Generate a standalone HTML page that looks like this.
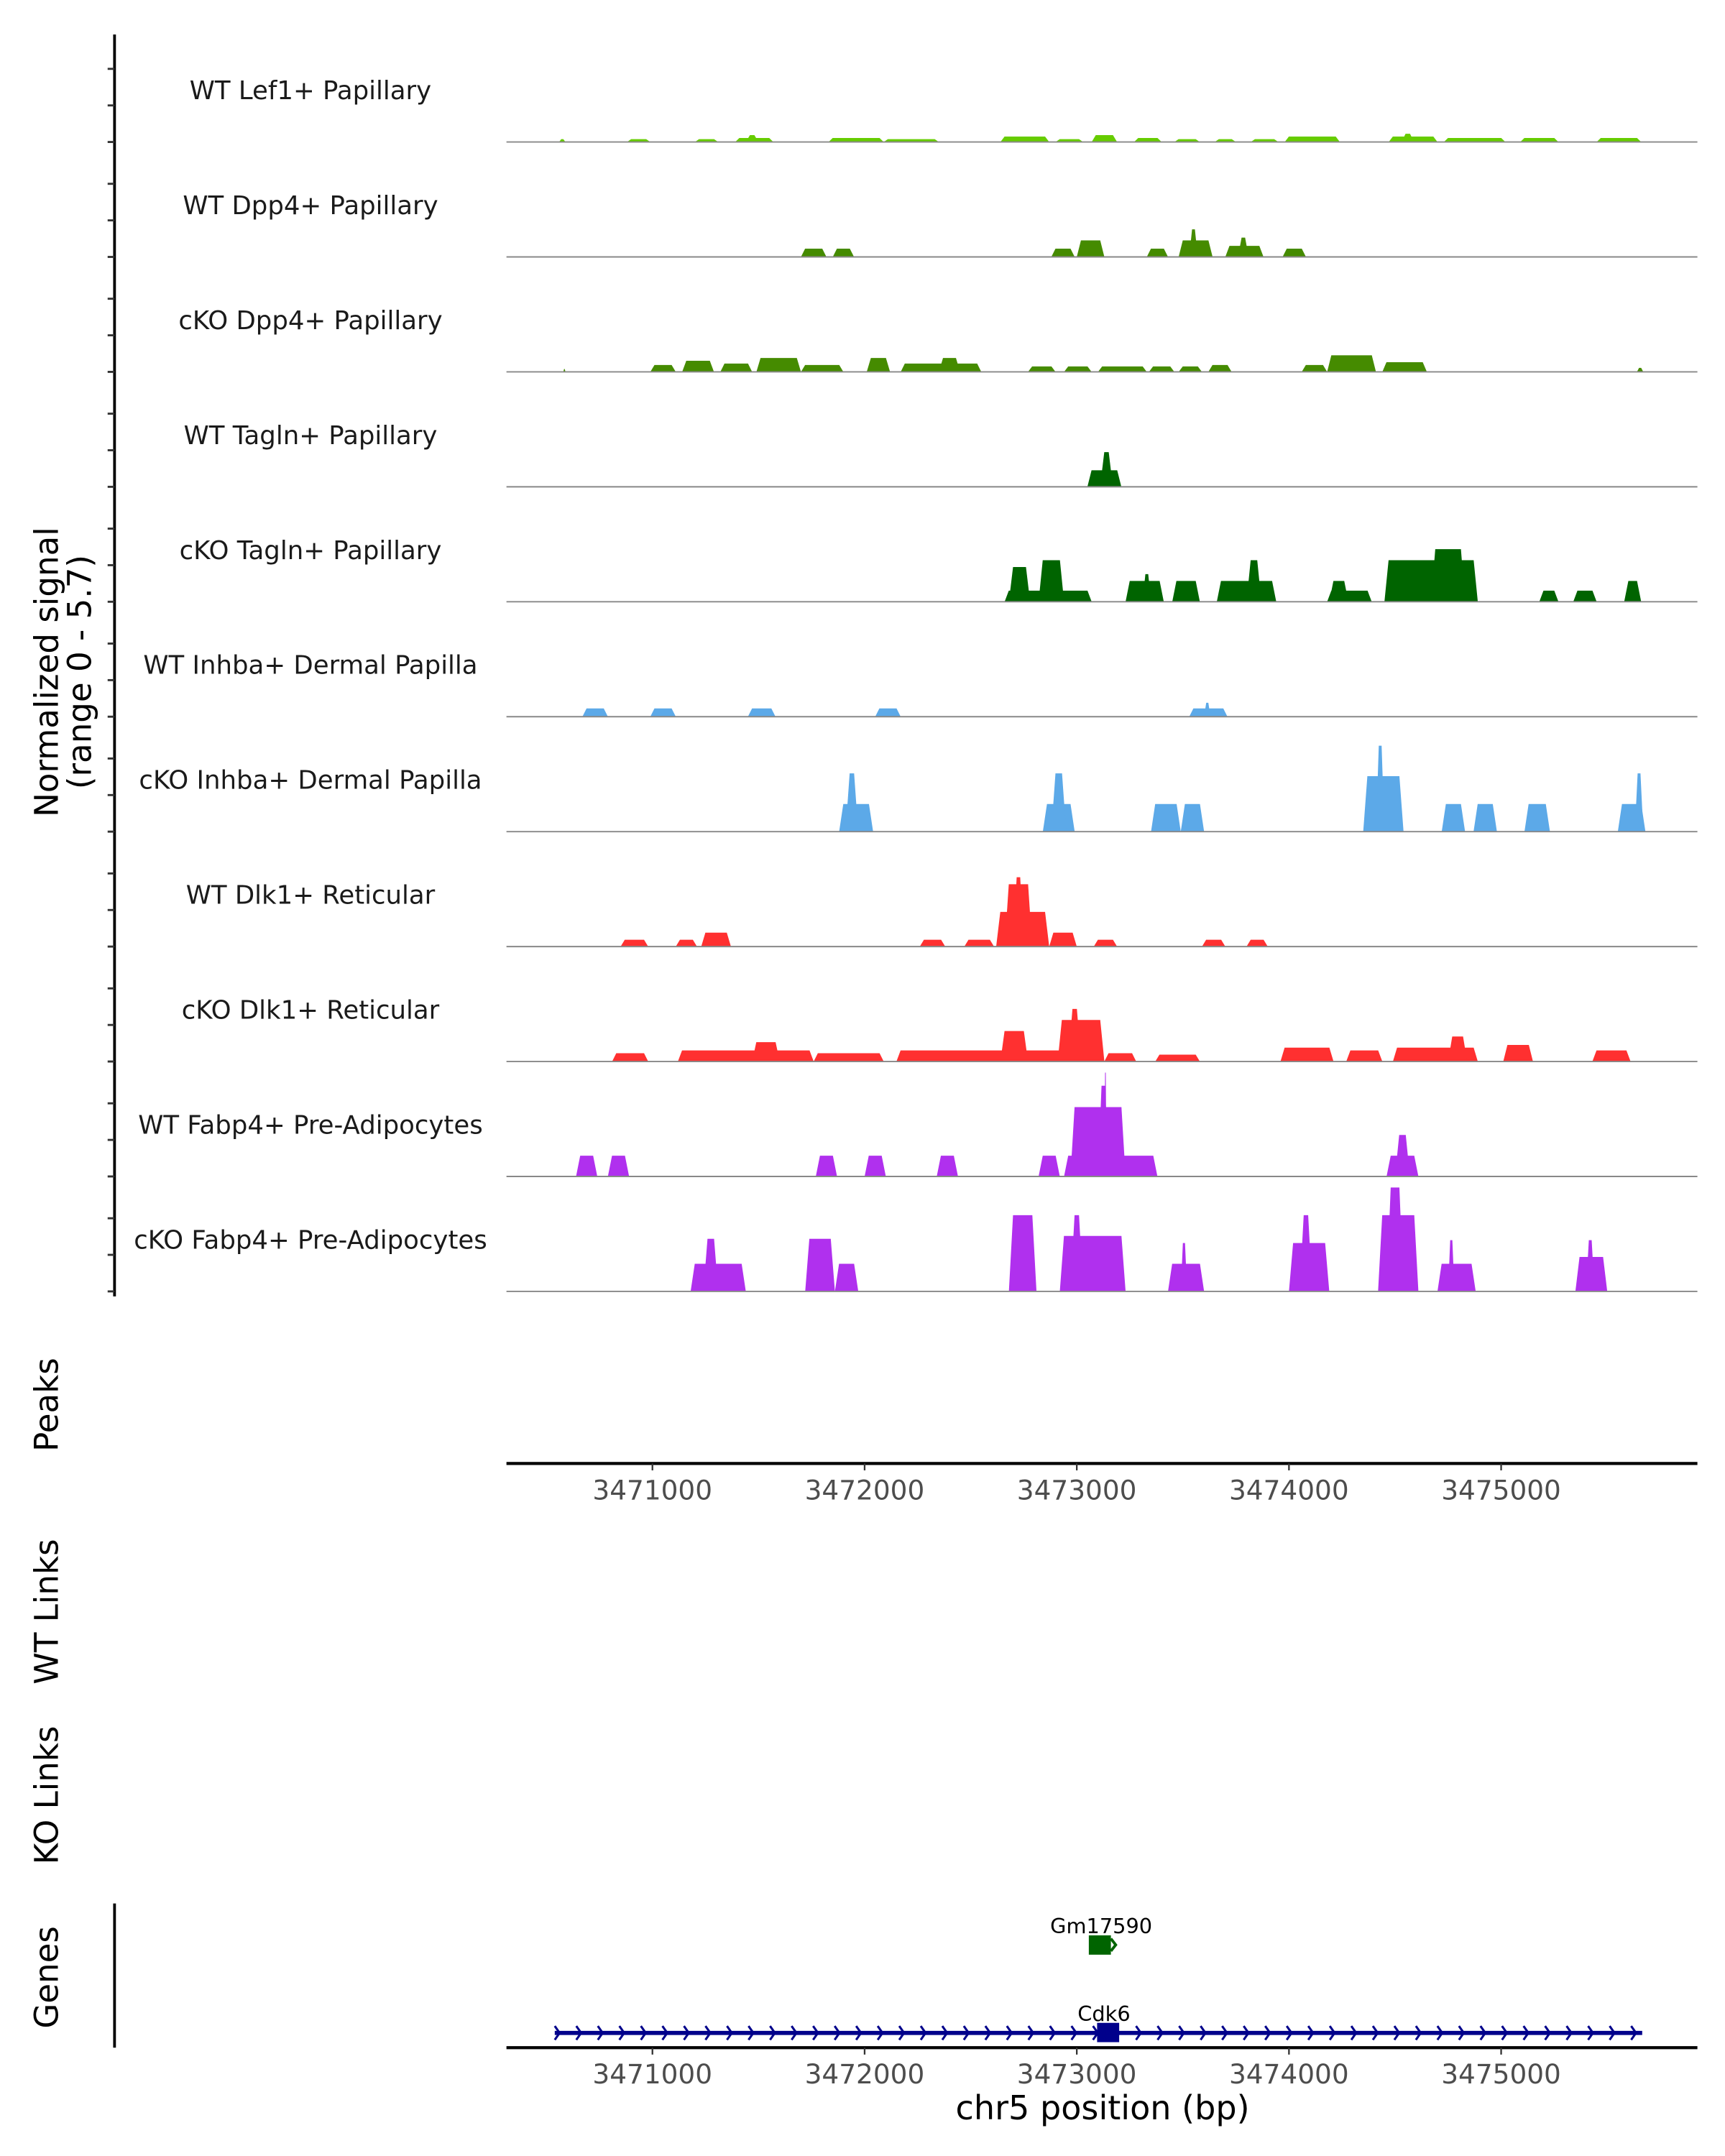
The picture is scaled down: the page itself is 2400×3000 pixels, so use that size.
<!DOCTYPE html>
<html><head><meta charset="utf-8"><style>
html,body{margin:0;padding:0;background:#fff;}
svg{display:block;font-family:"DejaVu Sans","Liberation Sans",sans-serif;}
</style></head><body>
<svg id="chart" width="2400" height="3000" viewBox="0 0 1250 1562.5" xmlns="http://www.w3.org/2000/svg">
<rect width="1250" height="1562.5" fill="#fff"/>
<g id="tracks"></g>
<g id="axes"></g>
</svg>
<script>
// Track names and colours
const trackNames = ["WT Lef1+ Papillary","WT Dpp4+ Papillary","cKO Dpp4+ Papillary","WT Tagln+ Papillary","cKO Tagln+ Papillary","WT Inhba+ Dermal Papilla","cKO Inhba+ Dermal Papilla","WT Dlk1+ Reticular","cKO Dlk1+ Reticular","WT Fabp4+ Pre-Adipocytes","cKO Fabp4+ Pre-Adipocytes"];
const trackColors = ["#66cc00","#458b00","#458b00","#006400","#006400","#5ca9e8","#5ca9e8","#ff3030","#ff3030","#b030ee","#b030ee"];
// signal segments: [start kb from 3470000, end kb, normalized signal]
const sigLef1WT = [[0.56,0.59,0.14],[0.88,0.99,0.14],[1.20,1.31,0.14],[1.39,1.57,0.2],[1.44,1.50,0.34],[1.83,2.09,0.2],[2.09,2.35,0.14],[2.64,2.87,0.27],[2.90,3.03,0.14],[3.07,3.19,0.34],[3.27,3.40,0.2],[3.46,3.58,0.14],[3.65,3.75,0.14],[3.82,3.95,0.14],[3.98,4.24,0.27],[4.47,4.70,0.27],[4.53,4.59,0.41],[4.73,5.02,0.2],[5.09,5.27,0.2],[5.45,5.66,0.2]];
const sigDpp4WT = [[1.70,1.82,0.41],[1.85,1.95,0.41],[2.88,2.99,0.41],[3.00,3.13,0.82],[3.33,3.43,0.41],[3.48,3.64,0.82],[3.53,3.57,1.37],[3.70,3.88,0.55],[3.76,3.81,0.96],[3.97,4.08,0.41]];
const sigDpp4KO = [[0.58,0.59,0.14],[0.99,1.11,0.34],[1.14,1.29,0.55],[1.32,1.47,0.41],[1.49,1.70,0.69],[1.70,1.90,0.34],[2.01,2.12,0.69],[2.17,2.55,0.41],[2.35,2.45,0.69],[2.77,2.90,0.27],[2.94,3.07,0.27],[3.10,3.33,0.27],[3.34,3.46,0.27],[3.48,3.59,0.27],[3.62,3.73,0.34],[4.06,4.18,0.34],[4.18,4.41,0.82],[4.44,4.65,0.48],[5.64,5.67,0.2]];
const sigTaglnWT = [[3.05,3.21,0.82],[3.11,3.17,1.72]];
const sigTaglnKO = [[2.66,3.07,0.55],[2.68,2.78,1.72],[2.82,2.94,2.06],[3.23,3.41,1.03],[3.31,3.35,1.37],[3.45,3.58,1.03],[3.66,3.94,1.03],[3.80,3.87,2.06],[4.18,4.39,0.55],[4.19,4.28,1.03],[4.45,4.89,2.06],[4.67,4.83,2.61],[5.18,5.27,0.55],[5.34,5.45,0.55],[5.58,5.66,1.03]];
const sigInhbaWT = [[0.67,0.79,0.41],[0.99,1.11,0.41],[1.45,1.58,0.41],[2.05,2.17,0.41],[3.53,3.71,0.41],[3.60,3.63,0.69]];
const sigInhbaKO = [[1.88,2.04,1.37],[1.91,1.97,2.89],[2.84,2.99,1.37],[2.88,2.95,2.89],[3.35,3.49,1.37],[3.49,3.60,1.37],[4.35,4.54,2.75],[4.41,4.45,4.26],[4.72,4.83,1.37],[4.87,4.98,1.37],[5.11,5.23,1.37],[5.55,5.68,1.37],[5.63,5.67,2.89]];
const sigDlk1WT = [[0.85,0.98,0.34],[1.11,1.21,0.34],[1.23,1.37,0.69],[2.26,2.38,0.34],[2.47,2.61,0.34],[2.62,2.87,1.72],[2.66,2.79,3.09],[2.70,2.75,3.44],[2.87,3.00,0.69],[3.08,3.19,0.34],[3.59,3.70,0.34],[3.80,3.90,0.34]];
const sigDlk1KO = [[0.81,0.98,0.41],[1.12,1.76,0.55],[1.47,1.60,0.96],[1.76,2.09,0.41],[2.15,2.94,0.55],[2.64,2.77,1.51],[2.91,3.13,2.06],[2.96,3.02,2.61],[3.13,3.28,0.41],[3.37,3.58,0.34],[3.96,4.21,0.69],[4.27,4.44,0.55],[4.49,4.89,0.69],[4.75,4.84,1.24],[5.01,5.15,0.82],[5.43,5.61,0.55]];
const sigFabp4WT = [[0.64,0.74,1.03],[0.79,0.89,1.03],[1.77,1.87,1.03],[2.00,2.10,1.03],[2.34,2.44,1.03],[2.82,2.92,1.03],[2.94,3.38,1.03],[2.97,3.23,3.44],[3.10,3.15,4.5],[3.13,3.14,5.15],[4.46,4.61,1.03],[4.50,4.57,2.06]];
const sigFabp4KO = [[1.18,1.44,1.37],[1.24,1.31,2.61],[1.72,1.86,2.61],[1.86,1.97,1.37],[2.68,2.81,3.78],[2.92,3.23,2.75],[2.97,3.03,3.78],[3.43,3.60,1.37],[3.49,3.52,2.4],[4.00,4.19,2.4],[4.05,4.11,3.78],[4.42,4.61,3.78],[4.46,4.54,5.15],[4.70,4.88,1.37],[4.75,4.78,2.54],[5.35,5.50,1.71],[5.40,5.44,2.54]];
const allSignals = [sigLef1WT,sigDpp4WT,sigDpp4KO,sigTaglnWT,sigTaglnKO,sigInhbaWT,sigInhbaKO,sigDlk1WT,sigDlk1KO,sigFabp4WT,sigFabp4KO];
const xTicks = [3471000,3472000,3473000,3474000,3475000];
const yMax = 5.7;

const NS="http://www.w3.org/2000/svg";
const X0=367, X1=1230, BP0=3470312, BP1=3475925;
function xs(bp){return X0+(bp-BP0)/(BP1-BP0)*(X1-X0);}
function xk(kb){return xs(3470000+kb*1000);}
const trackH=83.3;
function base(i){return 102.9+i*trackH;}
function ys(v,i){return base(i)-v/yMax*trackH;}
function mk(tag,attrs,parent){const e=document.createElementNS(NS,tag);for(const k in attrs)e.setAttribute(k,attrs[k]);parent.appendChild(e);return e;}
const T=document.getElementById('tracks'), A=document.getElementById('axes');

allSignals.forEach((segs,i)=>{
  const g=mk('g',{},T);
  
  
  const lab=mk('text',{x:225,y:base(i)-31,'text-anchor':'middle','font-size':18.5,fill:'#1a1a1a'},g);
  lab.textContent=trackNames[i];
  
  
  segs.forEach(s=>{
    const a=xk(s[0]), b=xk(s[1]); const r=Math.min(3,(b-a)/3);
    const y0=base(i), y1=ys(s[2],i);
    const p=mk('polygon',{points:`${a},${y0} ${a+r},${y1} ${b-r},${y1} ${b},${y0}`,fill:trackColors[i]},g);
    
    
  });
  const bl=mk('line',{x1:X0,x2:X1,y1:base(i),y2:base(i),stroke:'#888',"stroke-width":1},g);
  
  
});

// left axis
const la=mk('line',{x1:83,x2:83,y1:25,y2:939.5,stroke:'#000','stroke-width':2},A);


for(let i=0;i<allSignals.length;i++){
  [0,26.5,53].forEach(o=>{
    const t=mk('line',{x1:78,x2:83,y1:base(i)-o,y2:base(i)-o,stroke:'#333','stroke-width':1.5},A);
    
    
  });
}
function rotLabel(text,x,y,name,size){
  const t=mk('text',{x:x,y:y,'text-anchor':'middle','font-size':size||23.5,fill:'#000',transform:`rotate(-90 ${x} ${y})`},A);
  t.textContent=text;
  
  
}
rotLabel('Normalized signal',42,487,'y-axis-title');
rotLabel('(range 0 - 5.7)',66,487,'y-axis-range');
rotLabel('Peaks',42,1018,'peaks-label');
rotLabel('WT Links',42,1168,'wt-links-label');
rotLabel('KO Links',42,1301,'ko-links-label');
rotLabel('Genes',42,1433,'genes-label');
const gl=mk('line',{x1:83,x2:83,y1:1379.5,y2:1484,stroke:'#000','stroke-width':2},A);



function xAxis(y,name){
  const l=mk('line',{x1:X0,x2:X1,y1:y,y2:y,stroke:'#000','stroke-width':2.2},A);
  
  
  xTicks.forEach(v=>{
    const tk=mk('line',{x1:xs(v),x2:xs(v),y1:y,y2:y+5,stroke:'#333','stroke-width':1.2},A);
    
    
    const tl=mk('text',{x:xs(v),y:y+26,'text-anchor':'middle','font-size':19.5,fill:'#4d4d4d'},A);
    tl.textContent=v;
    
    
  });
}
xAxis(1060.6,'peaks-x-axis');
xAxis(1484,'genes-x-axis');
const xt=mk('text',{x:799,y:1536,'text-anchor':'middle','font-size':24,fill:'#000'},A);
xt.textContent='chr5 position (bp)';



// genes
const gm=mk('rect',{x:789,y:1402.6,width:16,height:14,fill:'#006400'},A);


const gma=mk('path',{d:'M805 1405 l3.5 4.5 l-3.5 4.5',stroke:'#006400','stroke-width':2,fill:'none'},A);


const gmt=mk('text',{x:798,y:1401,'text-anchor':'middle','font-size':15,fill:'#000'},A);
gmt.textContent='Gm17590';


const cl=mk('line',{x1:402,x2:1190,y1:1473.3,y2:1473.3,stroke:'#00008b','stroke-width':3},A);


let d='';
for(let x=402;x<=1190;x+=15.6){d+=`M${x} 1468.3 l3.5 5 l-3.5 5 `;}
const ch=mk('path',{d:d,stroke:'#00008b','stroke-width':1.6,fill:'none'},A);


const cb=mk('rect',{x:795,y:1466,width:16,height:14,fill:'#00008b'},A);


const ct=mk('text',{x:800,y:1464.5,'text-anchor':'middle','font-size':15,fill:'#000'},A);
ct.textContent='Cdk6';


</script>
</body></html>
